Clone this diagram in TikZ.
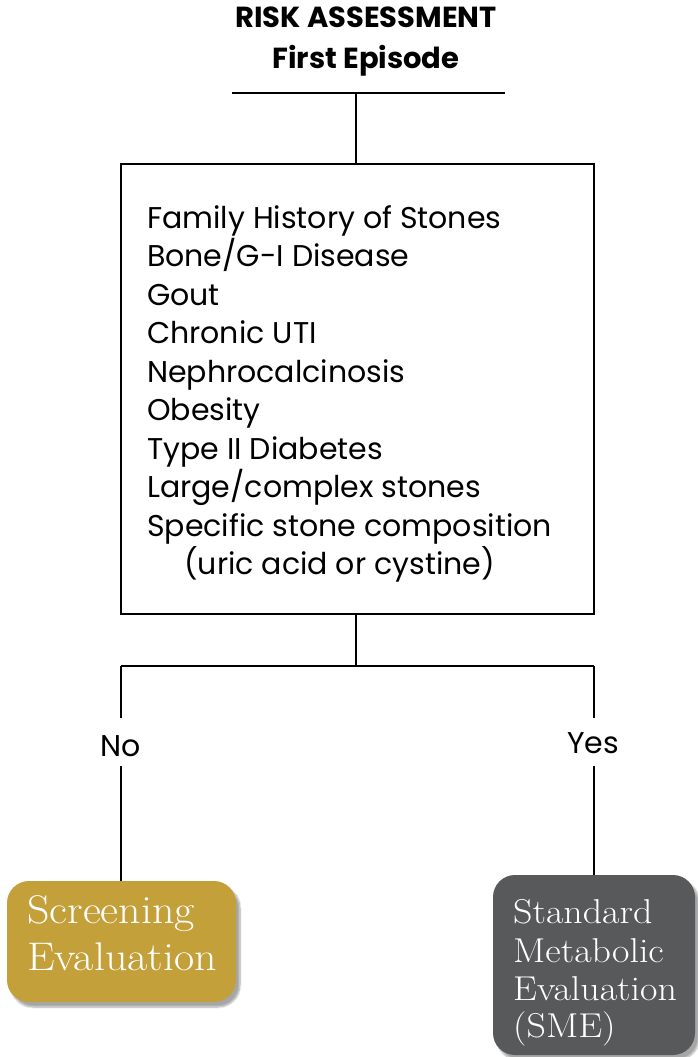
\documentclass[tikz,border=0pt]{standalone}
\usepackage{fontspec}
\newfontfamily\gothic{Poppins}
\usetikzlibrary{shadows.blur}
\definecolor{gold}{HTML}{C3A03A}
\definecolor{slate}{HTML}{58595B}
\begin{document}
\begin{tikzpicture}[x=1pt,y=-1pt,
  conn/.style={line width=2.6pt},
  titletext/.style={font=\gothic\bfseries\fontsize{29}{38}\selectfont, inner sep=0pt, anchor=base},
  listtext/.style={font=\gothic\fontsize{30}{38.5}\selectfont, inner sep=0pt, anchor=base west},
  answer/.style={font=\gothic\fontsize{30}{36}\selectfont, inner sep=0pt, anchor=base},
  outbox/.style={rounded corners=22pt, blur shadow={shadow xshift=4pt, shadow yshift=-5pt, shadow blur steps=8, shadow opacity=35}, inner sep=0pt},
  bigserif/.style={font=\fontsize{40}{47}\selectfont, text=white, inner sep=0pt, anchor=base west},
  smallserif/.style={font=\fontsize{34.5}{38}\selectfont, text=white, inner sep=0pt, anchor=base west},
  ]
\useasboundingbox (0,0) rectangle (698,1057);
% title
\node[titletext] (t1) at (366,28) {RISK ASSESSMENT};
\node[titletext] (t2) at (366,68) {First Episode};
\coordinate (barL) at (232,93);
\coordinate (barR) at (505,93);
\coordinate (barM) at (356,93);
\draw[conn] (barL) -- (barR);
% main box
\node[draw, line width=2.6pt, minimum width=473pt, minimum height=450pt, inner sep=0pt] (box) at (357.5,389) {};
\draw[conn] (barM) -- (barM |- box.north);
% list
\node[listtext] (l1) at (147,228) {Family History of Stones};
\node[listtext] (l2) at (147,266.5) {Bone/G-I Disease};
\node[listtext] (l3) at (147,305) {Gout};
\node[listtext] (l4) at (147,343.5) {Chronic UTI};
\node[listtext] (l5) at (147,382) {Nephrocalcinosis};
\node[listtext] (l6) at (147,420.5) {Obesity};
\node[listtext] (l7) at (147,459) {Type II Diabetes};
\node[listtext] (l8) at (147,497.5) {Large/complex stones};
\node[listtext] (l9) at (147,536) {Specific stone composition};
\node[listtext] (l10) at (184,574.5) {(uric acid or cystine)};
% split
\coordinate (split) at (356,666);
\coordinate (splitL) at (121,666);
\coordinate (splitR) at (594,666);
\draw[conn] (split |- box.south) -- (split);
\draw[conn] (splitL) -- (splitR);
% answers
\node[answer] (no) at (121,756) {No};
\node[answer] (yes) at (593,753) {Yes};
\coordinate (noTop) at (121,718);
\coordinate (noBot) at (121,766);
\coordinate (yesTop) at (594,718);
\coordinate (yesBot) at (594,766);
\draw[conn] (splitL) -- (noTop);
\draw[conn] (splitR) -- (yesTop);
% outcome boxes
\node[outbox, fill=gold, minimum width=229pt, minimum height=121pt] (screen) at (121.5,941.5) {};
\node[outbox, fill=slate, minimum width=202pt, minimum height=180pt] (sme) at (594,965) {};
\draw[conn] (noBot) -- (noBot |- screen.north);
\draw[conn] (yesBot) -- (yesBot |- sme.north);
\node[bigserif] (s1) at (27,923) {\scalebox{1.1}[1]{Screening}};
\node[bigserif] (s2) at (27,970) {\scalebox{1.1}[1]{Evaluation}};
\node[smallserif] (m1) at (513,923) {\scalebox{1.1}[1]{Standard}};
\node[smallserif] (m2) at (513,962) {\scalebox{1.1}[1]{Metabolic}};
\node[smallserif] (m3) at (513,1000) {\scalebox{1.1}[1]{Evaluation}};
\node[smallserif] (m4) at (513,1037) {\scalebox{1.1}[1]{(SME)}};
\end{tikzpicture}
\end{document}
